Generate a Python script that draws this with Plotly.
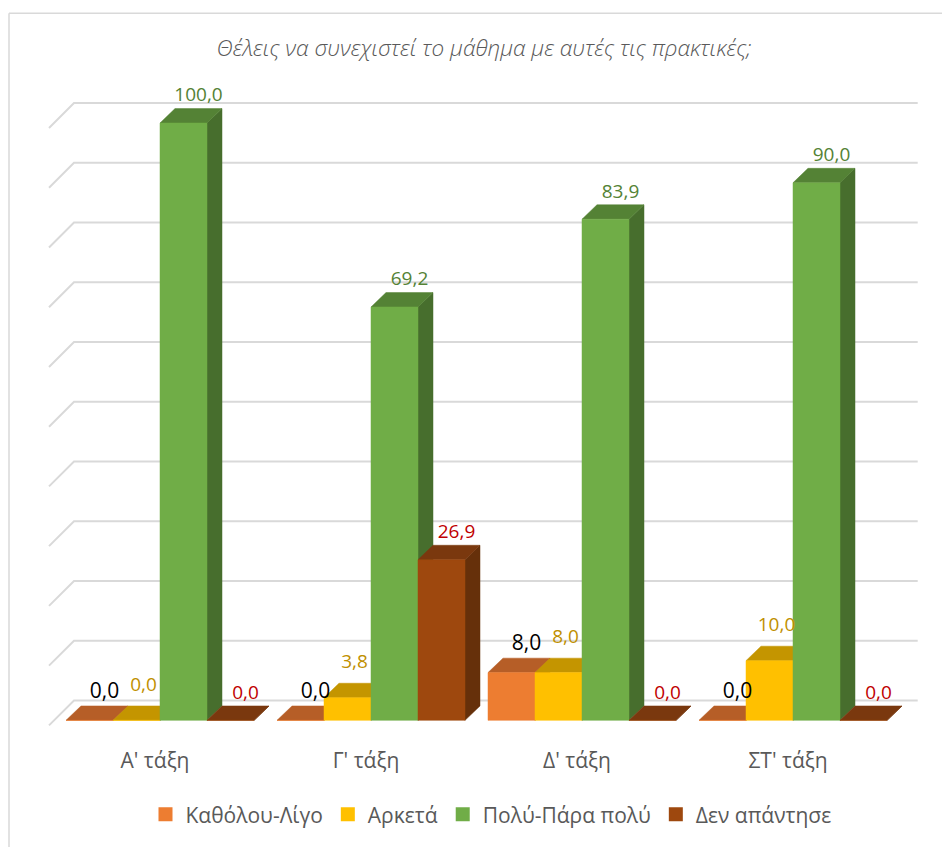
import plotly.graph_objects as go

# ---------------- data ----------------
categories = ["Α' τάξη", "Γ' τάξη", "Δ' τάξη", "ΣΤ' τάξη"]
series_names = ["Καθόλου-Λίγο", "Αρκετά", "Πολύ-Πάρα πολύ", "Δεν απάντησε"]
katholou_ligo = [0.0, 0.0, 8.0, 0.0]
arketa = [0.0, 3.8, 8.0, 10.0]
poly_para_poly = [100.0, 69.2, 83.9, 90.0]
den_apantise = [0.0, 26.9, 0.0, 0.0]
grid_values = [0, 10, 20, 30, 40, 50, 60, 70, 80, 90, 100]
title_text = "Θέλεις να συνεχιστεί το μάθημα με αυτές τις πρακτικές;"

series_values = [katholou_ligo, arketa, poly_para_poly, den_apantise]

# ---------------- style ----------------
front_colors = ["#ED7D31", "#FFC000", "#70AD47", "#9E480E"]
top_colors = ["#B65E27", "#C49500", "#548235", "#7A380E"]
side_colors = ["#A3531F", "#A88000", "#476E2D", "#66300A"]
label_colors = ["#000000", "#BF9000", "#548235", "#C00000"]
label_sizes = [21, 19, 19, 19]
label_dx_px = [0, -8, 0, 0]
label_dy_px = [13, 20, 12, 12]
grid_color = "#D9D9D9"
text_gray = "#595959"
FONT = "Open Sans"

# page offset (browser body margin) and screen geometry
PAGE_OFF = 8
SCREEN_W, SCREEN_H = 950, 847
W, H = SCREEN_W - PAGE_OFF, SCREEN_H - PAGE_OFF
# plot area in screen pixels
PL, PR, PT, PB = 40, 930, 60, 740
ML, MR = PL - PAGE_OFF, W - (PR - PAGE_OFF)
MT, MB = PT - PAGE_OFF, H - (PB - PAGE_OFF)

# pixel calibration of the 3D projection (screen pixels)
PX_PER_CAT = 211.0
CAT0_PX = 160.0
PX_PER_UNIT = 6.0
BASE_PX = 723.3


def cx(px):
    return (px - CAT0_PX) / PX_PER_CAT


def vy(py):
    return (BASE_PX - py) / PX_PER_UNIT


n_series = len(series_values)
group_half = 94 / PX_PER_CAT
bar_w = 2 * group_half / n_series
dx = 15 / PX_PER_CAT
dy = 14.5 / PX_PER_UNIT
wall_dy = 20 / PX_PER_UNIT
side_dy = 25 / PX_PER_UNIT
wall_left = cx(74)
wall_right = cx(917.7)
side_front = cx(49)

fig = go.Figure()

# back wall gridlines + side wall diagonals
gx, gy = [], []
for g in grid_values:
    gx += [side_front, wall_left, wall_right, None]
    gy += [g + wall_dy - side_dy, g + wall_dy, g + wall_dy, None]
fig.add_trace(go.Scatter(x=gx, y=gy, mode="lines",
                         line=dict(color=grid_color, width=2),
                         hoverinfo="skip", showlegend=False))

# 3D bars: side, top, front for each series, left to right
for k, vals in enumerate(series_values):
    sx, sy, tx, ty, fx, fy = [], [], [], [], [], []
    for i, v in enumerate(vals):
        L = i - group_half + k * bar_w
        R = L + bar_w
        sx += [R, R + dx, R + dx, R, R, None]
        sy += [0, dy, v + dy, v, 0, None]
        tx += [L, R, R + dx, L + dx, L, None]
        ty += [v, v, v + dy, v + dy, v, None]
        fx += [L, R, R, L, L, None]
        fy += [0, 0, v, v, 0, None]
    for xs, ys, col in ((sx, sy, side_colors[k]), (tx, ty, top_colors[k]),
                        (fx, fy, front_colors[k])):
        fig.add_trace(go.Scatter(x=xs, y=ys, mode="lines", fill="toself",
                                 fillcolor=col, line=dict(color=col, width=0.5),
                                 hoverinfo="skip", showlegend=False))

# legend entries (square swatches)
for k, name in enumerate(series_names):
    fig.add_trace(go.Scatter(x=[None], y=[None], name=name, mode="markers",
                             marker=dict(symbol="square", size=14, color=front_colors[k],
                                         line=dict(width=0))))

# data labels
for k, vals in enumerate(series_values):
    lx = [i - group_half + (k + 0.5) * bar_w + dx + label_dx_px[k] / PX_PER_CAT
          for i in range(len(vals))]
    ly = [v + dy + label_dy_px[k] / PX_PER_UNIT for v in vals]
    fig.add_trace(go.Scatter(x=lx, y=ly, mode="text", customdata=vals,
                             texttemplate="%{customdata:.1f}",
                             textposition="middle center",
                             textfont=dict(family=FONT, size=label_sizes[k],
                                           color=label_colors[k]),
                             hoverinfo="skip", showlegend=False, cliponaxis=False))

plot_w = PR - PL
plot_h = PB - PT


def px_paper_x(px):
    return (px - PL) / plot_w


def px_paper_y(py):
    return (PB - py) / plot_h


# outer chart border (left and top visible)
fig.add_shape(type="line", xref="paper", yref="paper",
              x0=px_paper_x(9), x1=px_paper_x(9), y0=px_paper_y(13), y1=px_paper_y(SCREEN_H + 5),
              line=dict(color=grid_color, width=1.5))
fig.add_shape(type="line", xref="paper", yref="paper",
              x0=px_paper_x(9), x1=px_paper_x(SCREEN_W + 5), y0=px_paper_y(13), y1=px_paper_y(13),
              line=dict(color=grid_color, width=1.5))

fig.update_layout(
    width=W, height=H,
    margin=dict(l=ML, r=MR, t=MT, b=MB, pad=0),
    paper_bgcolor="white", plot_bgcolor="white",
    separators=",.",
    title=dict(text=title_text, xref="paper", x=px_paper_x(484), xanchor="center",
               yref="container", y=1 - (48 - PAGE_OFF) / H, yanchor="middle",
               font=dict(family=FONT, size=22.5, color=text_gray, style="italic", weight=300)),
    xaxis=dict(range=[cx(PL), cx(PR)], showgrid=False, zeroline=False,
               showline=False, tickmode="array", tickvals=list(range(len(categories))),
               ticktext=categories, ticks="", ticklabelstandoff=9, ticklabelshift=-5,
               tickfont=dict(family=FONT, size=21, color=text_gray)),
    yaxis=dict(range=[vy(PB), vy(PT)], visible=False, showgrid=False, zeroline=False),
    legend=dict(orientation="h", xref="paper", x=px_paper_x(491), xanchor="center",
                yref="paper", y=px_paper_y(818), yanchor="middle",
                font=dict(family=FONT, size=21, color=text_gray),
                itemwidth=30, bgcolor="rgba(0,0,0,0)"),
    showlegend=True,
)

fig.write_html("out.html")
